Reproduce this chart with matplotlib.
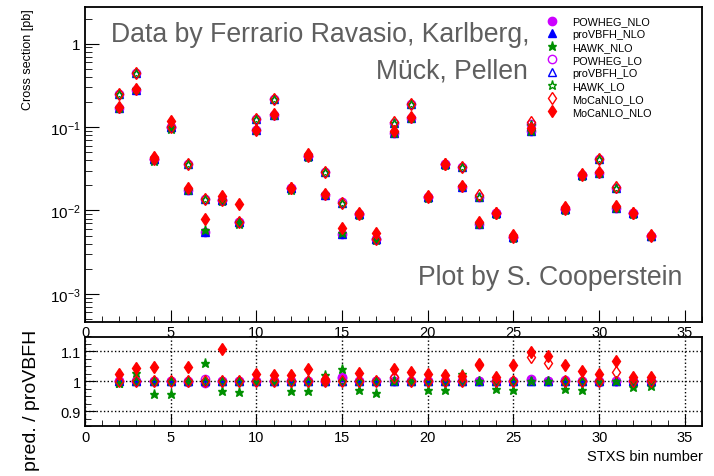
import matplotlib
matplotlib.use("Agg")
import numpy as np
import matplotlib.pyplot as plt
from matplotlib.ticker import FixedLocator, MultipleLocator, LogLocator, FuncFormatter, NullFormatter

plt.rcParams['font.family'] = ['Liberation Sans', 'DejaVu Sans']
plt.rcParams['mathtext.default'] = 'regular'

# STXS bins shown in the plot
bins = np.arange(2, 34)

# proVBFH cross sections [pb] (reference for the ratio)
provbfh_nlo = np.array([0.168, 0.275, 0.0414, 0.100, 0.0178, 0.0055, 0.0135, 0.0072,
                        0.091, 0.140, 0.0184, 0.0454, 0.0155, 0.0052, 0.0091, 0.0046,
                        0.085, 0.128, 0.0145, 0.0357, 0.0191, 0.0068, 0.0092, 0.0048,
                        0.089, 0.140, 0.0105, 0.0268, 0.0282, 0.0107, 0.0092, 0.0050])
provbfh_lo = np.array([0.249, 0.445, 0.0414, 0.100, 0.0360, 0.0138, 0.0135, 0.0072,
                       0.126, 0.217, 0.0184, 0.0454, 0.0286, 0.0124, 0.0091, 0.0046,
                       0.112, 0.189, 0.0145, 0.0357, 0.0329, 0.0145, 0.0092, 0.0048,
                       0.107, 0.200, 0.0105, 0.0268, 0.0418, 0.0186, 0.0092, 0.0050])

# pred. / proVBFH
ratio_powheg_nlo = np.array([1.0, 1.0, 1.0, 1.0, 0.998, 0.995, 1.0, 1.0,
                             1.0, 1.0, 1.0, 1.0, 1.0, 1.015, 1.0, 1.0,
                             1.0, 1.0, 1.0, 1.0, 1.0, 1.0, 1.0, 1.0,
                             1.008, 1.0, 1.005, 1.0, 0.997, 1.0, 1.0, 1.0])
ratio_provbfh_nlo = np.ones(len(bins))
ratio_hawk_nlo = np.array([0.995, 1.027, 0.958, 0.957, 1.0, 1.06, 0.966, 0.964,
                           1.0, 1.0, 0.966, 0.966, 1.02, 1.04, 0.970, 0.961,
                           1.0, 1.0, 0.972, 0.972, 1.025, 1.0, 0.974, 0.972,
                           1.0, 1.0, 0.975, 0.970, 1.0, 1.0, 0.980, 0.983])
ratio_powheg_lo = np.array([1.0, 1.002, 1.0, 1.0, 1.0, 1.008, 1.0, 1.0,
                            1.0, 1.0, 1.0, 1.0, 1.0, 1.01, 1.0, 1.0,
                            1.01, 1.0, 1.0, 1.0, 1.0, 1.0, 1.0, 1.0,
                            1.005, 1.0, 1.0, 1.0, 1.0, 1.0, 1.0, 1.0])
ratio_provbfh_lo = np.ones(len(bins))
ratio_hawk_lo = np.array([0.995, 1.0, 1.0, 1.0, 1.0, 1.0, 1.0, 1.0,
                          1.0, 1.0, 1.0, 1.0, 1.0, 1.0, 1.0, 1.0,
                          1.0, 1.0, 1.0, 1.0, 1.0, 1.0, 1.0, 1.0,
                          1.0, 1.0, 1.0, 1.0, 1.0, 1.0, 1.0, 1.0])
ratio_mocanlo_lo = np.array([1.0, 1.0, 1.0, 1.0, 1.0, 1.0, 1.0, 1.0,
                             1.0, 1.0, 1.0, 1.0, 1.0, 1.0, 1.0, 1.0,
                             1.015, 1.0, 1.0, 1.0, 1.0, 1.055, 1.0, 1.0,
                             1.081, 1.061, 1.0, 1.0, 1.0, 1.03, 1.0, 1.0])
ratio_mocanlo_nlo = np.array([1.025, 1.043, 1.047, 1.18, 1.049, 1.45, 1.109, 1.67,
                              1.025, 1.022, 1.02, 1.042, 1.009, 1.2, 1.028, 1.18,
                              1.042, 1.03, 1.025, 1.022, 1.017, 1.058, 1.013, 1.056,
                              1.097, 1.083, 1.056, 1.034, 1.025, 1.067, 1.013, 1.013])

purple = '#cc00ff'
blue = '#0000ff'
green = '#009000'
red = '#ff0000'

# label, ratio, reference xsec, marker, colour, filled, size
series = [
    ("POWHEG_NLO", ratio_powheg_nlo, provbfh_nlo, 'o', purple, True, 6.0),
    ("proVBFH_NLO", ratio_provbfh_nlo, provbfh_nlo, '^', blue, True, 6.0),
    ("HAWK_NLO", ratio_hawk_nlo, provbfh_nlo, '*', green, True, 6.5),
    ("POWHEG_LO", ratio_powheg_lo, provbfh_lo, 'o', purple, False, 6.0),
    ("proVBFH_LO", ratio_provbfh_lo, provbfh_lo, '^', blue, False, 6.0),
    ("HAWK_LO", ratio_hawk_lo, provbfh_lo, '*', green, False, 6.5),
    ("MoCaNLO_LO", ratio_mocanlo_lo, provbfh_lo, 'd', red, False, 6.0),
    ("MoCaNLO_NLO", ratio_mocanlo_nlo, provbfh_nlo, 'd', red, True, 6.0),
]

W, H = 714, 477
fig = plt.figure(figsize=(W / 100, H / 100), dpi=100)
ax1 = fig.add_axes([85 / W, 1 - 323 / H, 617 / W, 315 / H])
ax2 = fig.add_axes([85 / W, 1 - 427 / H, 617 / W, 89.5 / H])
ax2.set_zorder(3)

handles = []
for label, ratio, ref, marker, color, filled, ms in series:
    style = dict(ls='none', marker=marker, ms=ms, mec=color,
                 mfc=color if filled else 'none', mew=1.0)
    line, = ax1.plot(bins, ref * ratio, label=label, **style)
    ax2.plot(bins, ratio, **style)
    handles.append(line)

# top pad
ax1.set_yscale('log')
ax1.set_xlim(0, 36)
ax1.set_ylim(4.6e-4, 2.75)
ax1.xaxis.set_major_locator(MultipleLocator(5))
ax1.xaxis.set_minor_locator(MultipleLocator(1))
ax1.yaxis.set_major_locator(LogLocator(base=10, numticks=10))
ax1.yaxis.set_minor_locator(LogLocator(base=10, subs=np.arange(2, 10), numticks=20))
ax1.yaxis.set_minor_formatter(NullFormatter())
ax1.yaxis.set_major_formatter(FuncFormatter(
    lambda v, p: '1' if abs(v - 1) < 1e-9 else r'$10^{%d}$' % round(np.log10(v))))
ax1.tick_params(which='both', direction='in', top=False, right=False)
ax1.tick_params(axis='x', which='major', length=9, labelsize=10.5, pad=2)
ax1.tick_params(axis='x', which='minor', length=4.5)
ax1.tick_params(axis='y', which='major', length=10, labelsize=11, pad=3)
ax1.tick_params(axis='y', which='minor', length=5)

# bottom pad
ax2.set_xlim(0, 36)
ax2.set_ylim(0.85, 1.15)
ax2.xaxis.set_major_locator(MultipleLocator(5))
ax2.xaxis.set_minor_locator(MultipleLocator(1))
ax2.yaxis.set_major_locator(FixedLocator([0.9, 1.0, 1.1]))
ax2.yaxis.set_minor_locator(MultipleLocator(0.025))
ax2.yaxis.set_major_formatter(FuncFormatter(lambda v, p: '%g' % round(v, 2)))
ax2.tick_params(which='both', direction='in', top=False, right=False)
ax2.tick_params(axis='x', which='major', length=8.5, labelsize=10.5, pad=3)
ax2.tick_params(axis='x', which='minor', length=4.5)
ax2.tick_params(axis='y', which='major', length=8, labelsize=10.5, pad=3)
ax2.tick_params(axis='y', which='minor', length=4)
ax2.set_axisbelow(True)
ax2.grid(True, which='major', ls=':', color='black', lw=1.0)

for ax in (ax1, ax2):
    for sp in ax.spines.values():
        sp.set_linewidth(1.3)

leg = ax1.legend(handles=handles, loc='upper left',
                 bbox_to_anchor=(537 / W, 1 - 13 / H), bbox_transform=fig.transFigure,
                 fontsize=7.8, frameon=True, facecolor='white', edgecolor='none',
                 fancybox=False, framealpha=1, handlelength=2.0, handletextpad=0.85,
                 labelspacing=0.27, borderpad=0.4, borderaxespad=0, numpoints=1)
leg.set_zorder(10)

grey = '#5f5f5f'
fig.text(111 / W, 1 - 41.5 / H, "Data by Ferrario Ravasio, Karlberg,",
         fontsize=19.2, color=grey, ha='left', va='baseline')
fig.text(528 / W, 1 - 78.5 / H, "Mück, Pellen",
         fontsize=19.2, color=grey, ha='right', va='baseline')
fig.text(682 / W, 1 - 285 / H, "Plot by S. Cooperstein",
         fontsize=19.2, color=grey, ha='right', va='baseline')

fig.text(28 / W, 1 - 9 / H, "Cross section [pb]", rotation=90,
         ha='center', va='top', fontsize=9)
fig.text(31 / W, 1 - 400 / H, "pred. / proVBFH", rotation=90,
         ha='center', va='center', fontsize=14)
fig.text(703 / W, 1 - 457 / H, "STXS bin number", ha='right', va='center', fontsize=10.5)

fig.savefig("out.png", dpi=100)
